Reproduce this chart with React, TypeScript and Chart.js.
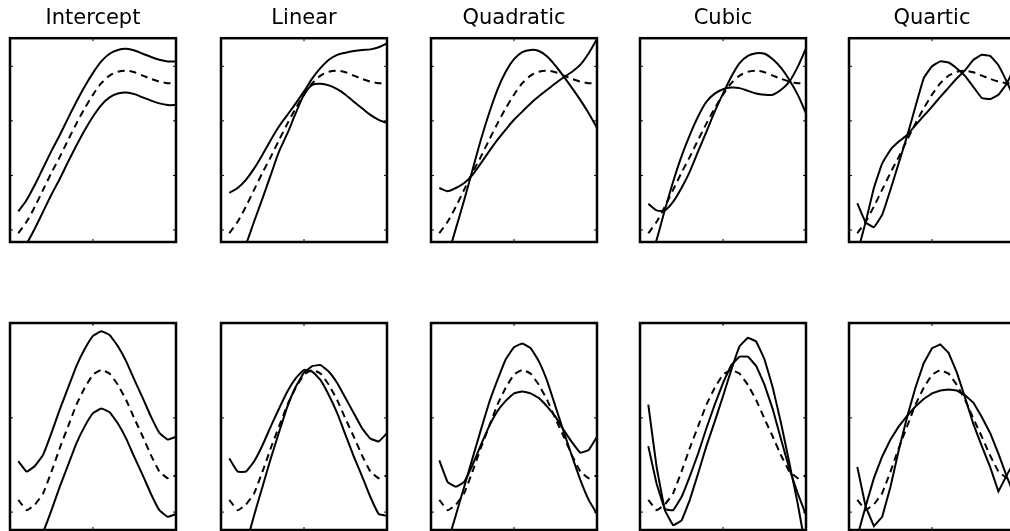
import React, { useEffect, useRef } from 'react';
import { Chart, registerables } from 'chart.js';

Chart.register(...registerables);

// ---------- data ----------
const X_VALUES = [1, 2, 3, 4, 5, 6, 7, 8, 9, 10, 11, 12, 13, 14, 15, 16, 17, 18, 19, 20];
const X_TICKS = [0, 10, 20];
const TOP_Y_TICKS = [0, 1, 2, 3];
const BOTTOM_Y_TICKS = [-1, 0, 1];
const TITLES = ['Intercept', 'Linear', 'Quadratic', 'Cubic', 'Quartic'];

// top row: true function (dashed) and two fitted curves per basis
const TOP_TRUE = [-0.06, 0.15, 0.43, 0.74, 1.05, 1.34, 1.65, 1.95, 2.23, 2.48, 2.69, 2.83, 2.90, 2.92, 2.89, 2.83, 2.77, 2.72, 2.69, 2.69];
const TOP_INTERCEPT_A = [0.34, 0.55, 0.83, 1.14, 1.45, 1.74, 2.05, 2.35, 2.63, 2.88, 3.09, 3.23, 3.30, 3.32, 3.29, 3.23, 3.17, 3.12, 3.09, 3.09];
const TOP_INTERCEPT_B = [-0.46, -0.25, 0.03, 0.34, 0.65, 0.94, 1.25, 1.55, 1.83, 2.08, 2.29, 2.43, 2.50, 2.52, 2.49, 2.43, 2.37, 2.32, 2.29, 2.29];
const TOP_LINEAR_A = [0.68, 0.77, 0.92, 1.13, 1.38, 1.65, 1.90, 2.11, 2.32, 2.54, 2.78, 2.97, 3.12, 3.21, 3.25, 3.28, 3.30, 3.31, 3.35, 3.42];
const TOP_LINEAR_B = [-1.10, -0.67, -0.27, 0.16, 0.58, 1.01, 1.44, 1.77, 2.14, 2.48, 2.66, 2.68, 2.65, 2.58, 2.48, 2.35, 2.23, 2.11, 2.02, 1.96];
const TOP_QUADRATIC_A = [0.77, 0.71, 0.77, 0.86, 1.01, 1.22, 1.44, 1.65, 1.84, 2.02, 2.17, 2.32, 2.45, 2.57, 2.69, 2.80, 2.90, 3.03, 3.24, 3.50];
const TOP_QUADRATIC_B = [-0.97, -0.49, 0.03, 0.55, 1.10, 1.65, 2.14, 2.57, 2.90, 3.13, 3.26, 3.30, 3.28, 3.18, 3.01, 2.81, 2.60, 2.38, 2.14, 1.87];
const TOP_CUBIC_A = [0.48, 0.36, 0.36, 0.52, 0.77, 1.07, 1.44, 1.80, 2.17, 2.50, 2.81, 3.06, 3.19, 3.24, 3.23, 3.13, 2.97, 2.75, 2.48, 2.14];
const TOP_CUBIC_B = [-0.61, -0.18, 0.37, 0.89, 1.35, 1.74, 2.08, 2.35, 2.50, 2.58, 2.61, 2.60, 2.55, 2.50, 2.48, 2.48, 2.57, 2.72, 2.99, 3.33];
const TOP_QUARTIC_A = [0.49, 0.14, 0.05, 0.28, 0.74, 1.23, 1.72, 2.26, 2.78, 3.00, 3.09, 3.07, 2.96, 2.82, 2.62, 2.42, 2.40, 2.48, 2.68, 3.00];
const TOP_QUARTIC_B = [-0.42, 0.14, 0.77, 1.22, 1.47, 1.62, 1.74, 1.92, 2.09, 2.26, 2.44, 2.61, 2.78, 2.93, 3.12, 3.21, 3.19, 3.02, 2.72, 2.38];

// bottom row
const BOTTOM_TRUE = [-0.87, -0.98, -0.92, -0.80, -0.57, -0.32, -0.09, 0.14, 0.32, 0.46, 0.51, 0.47, 0.35, 0.19, -0.01, -0.20, -0.40, -0.57, -0.64, -0.61];
const BOTTOM_INTERCEPT_A = [-0.46, -0.57, -0.51, -0.39, -0.16, 0.09, 0.32, 0.55, 0.73, 0.87, 0.92, 0.88, 0.76, 0.60, 0.40, 0.21, 0.01, -0.16, -0.23, -0.20];
const BOTTOM_INTERCEPT_B = [-1.28, -1.39, -1.33, -1.21, -0.98, -0.73, -0.50, -0.27, -0.09, 0.05, 0.10, 0.06, -0.06, -0.22, -0.42, -0.61, -0.81, -0.98, -1.05, -1.02];
const BOTTOM_LINEAR_A = [-0.43, -0.57, -0.57, -0.46, -0.29, -0.09, 0.10, 0.28, 0.42, 0.51, 0.49, 0.40, 0.24, 0.05, -0.18, -0.41, -0.62, -0.84, -1.02, -1.04];
const BOTTOM_LINEAR_B = [-1.95, -1.65, -1.35, -1.03, -0.73, -0.43, -0.15, 0.12, 0.33, 0.48, 0.55, 0.56, 0.49, 0.37, 0.21, 0.05, -0.11, -0.22, -0.25, -0.16];
const BOTTOM_QUADRATIC_A = [-0.45, -0.68, -0.73, -0.68, -0.50, -0.29, -0.09, 0.07, 0.18, 0.26, 0.28, 0.26, 0.21, 0.12, 0.01, -0.13, -0.26, -0.37, -0.34, -0.20];
const BOTTOM_QUADRATIC_B = [-1.62, -1.33, -1.03, -0.73, -0.43, -0.13, 0.16, 0.40, 0.62, 0.75, 0.79, 0.74, 0.60, 0.39, 0.12, -0.15, -0.41, -0.66, -0.87, -1.02];
const BOTTOM_CUBIC_A = [0.14, -0.52, -0.98, -1.14, -1.09, -0.87, -0.59, -0.30, -0.04, 0.23, 0.51, 0.76, 0.85, 0.81, 0.62, 0.32, -0.06, -0.48, -0.91, -1.40];
const BOTTOM_CUBIC_B = [-0.30, -0.70, -0.97, -0.98, -0.84, -0.62, -0.38, -0.11, 0.14, 0.37, 0.56, 0.65, 0.65, 0.55, 0.35, 0.09, -0.23, -0.54, -0.80, -1.03];
const BOTTOM_QUARTIC_A = [-0.52, -0.94, -1.15, -1.05, -0.73, -0.34, 0.01, 0.32, 0.58, 0.74, 0.78, 0.69, 0.48, 0.21, -0.07, -0.30, -0.52, -0.78, -0.61, -0.45];
const BOTTOM_QUARTIC_B = [-1.26, -0.94, -0.64, -0.41, -0.23, -0.09, 0.02, 0.12, 0.20, 0.26, 0.29, 0.30, 0.29, 0.24, 0.16, 0.01, -0.16, -0.38, -0.62, -0.84];

const TOP_FITS = [
  [TOP_INTERCEPT_A, TOP_INTERCEPT_B],
  [TOP_LINEAR_A, TOP_LINEAR_B],
  [TOP_QUADRATIC_A, TOP_QUADRATIC_B],
  [TOP_CUBIC_A, TOP_CUBIC_B],
  [TOP_QUARTIC_A, TOP_QUARTIC_B],
];
const BOTTOM_FITS = [
  [BOTTOM_INTERCEPT_A, BOTTOM_INTERCEPT_B],
  [BOTTOM_LINEAR_A, BOTTOM_LINEAR_B],
  [BOTTOM_QUADRATIC_A, BOTTOM_QUADRATIC_B],
  [BOTTOM_CUBIC_A, BOTTOM_CUBIC_B],
  [BOTTOM_QUARTIC_A, BOTTOM_QUARTIC_B],
];

// ---------- layout / style ----------
const PANEL_LEFT = [10, 221, 431, 640, 849];
const PANEL_W = 166;
const PAD = 3;
const TOP_RANGE = { min: -0.22, max: 3.515 };
const BOTTOM_RANGE = { min: -1.19, max: 1.007 };
const TOP_TENSION = [0.3, 0.3, 0.3, 0.25, 0.1];
const BOTTOM_TENSION = [0.1, 0.1, 0.1, 0.05, 0];

const makeFrame = (yTicks: number[]) => ({
  id: 'frame',
  afterDatasetsDraw(chart: any) {
    const { ctx, chartArea: a, scales } = chart;
    ctx.save();
    ctx.strokeStyle = '#000';
    ctx.lineWidth = 1;
    const t = 3;
    ctx.beginPath();
    X_TICKS.forEach((v) => {
      const p = scales.x.getPixelForValue(v);
      ctx.moveTo(p, a.bottom);
      ctx.lineTo(p, a.bottom - t);
      ctx.moveTo(p, a.top);
      ctx.lineTo(p, a.top + t);
    });
    yTicks.forEach((v) => {
      const p = scales.y.getPixelForValue(v);
      ctx.moveTo(a.left, p);
      ctx.lineTo(a.left + t, p);
      ctx.moveTo(a.right, p);
      ctx.lineTo(a.right - t, p);
    });
    ctx.stroke();
    ctx.lineWidth = 2.5;
    ctx.strokeRect(a.left, a.top, a.right - a.left, a.bottom - a.top);
    ctx.restore();
  },
});

type PanelProps = {
  left: number;
  top: number;
  height: number;
  padTop: number;
  padBottom: number;
  title?: string;
  range: { min: number; max: number };
  yTicks: number[];
  fits: number[][];
  truth: number[];
  tension: number;
};

function Panel({ left, top, height, padTop, padBottom, title, range, yTicks, fits, truth, tension }: PanelProps) {
  const ref = useRef<HTMLCanvasElement>(null);
  useEffect(() => {
    if (!ref.current) return;
    const toPts = (arr: number[]) => X_VALUES.map((x, i) => ({ x, y: arr[i] }));
    const datasets: any[] = fits.map((f) => ({
      data: toPts(f),
      borderColor: '#000',
      borderWidth: 2,
      pointRadius: 0,
      tension,
      fill: false,
    }));
    datasets.push({
      data: toPts(truth),
      borderColor: '#000',
      borderWidth: 2,
      borderDash: [7, 5],
      pointRadius: 0,
      tension,
      fill: false,
    });
    const chart = new Chart(ref.current, {
      type: 'line',
      data: { datasets },
      options: {
        animation: false,
        responsive: true,
        maintainAspectRatio: false,
        events: [],
        layout: { padding: { left: PAD, right: PAD, top: padTop, bottom: padBottom } },
        scales: {
          x: { type: 'linear', min: 0, max: 20, display: false },
          y: { type: 'linear', min: range.min, max: range.max, display: false },
        },
        plugins: {
          legend: { display: false },
          tooltip: { enabled: false },
          title: title
            ? {
                display: true,
                text: title,
                color: '#000',
                font: { family: "'DejaVu Sans', sans-serif", size: 21, weight: 'normal', lineHeight: 1.2 },
                padding: { top: 6, bottom: 7 },
              }
            : { display: false },
        },
      },
      plugins: [makeFrame(yTicks)],
    });
    return () => chart.destroy();
  }, []);
  return (
    <div style={{ position: 'absolute', left: left - PAD, top, width: PANEL_W + 2 * PAD, height }}>
      <canvas ref={ref} />
    </div>
  );
}

export default function App() {
  return (
    <div
      style={{
        position: 'fixed',
        left: 0,
        top: 0,
        width: 1010,
        height: 531,
        overflow: 'hidden',
        background: '#fff',
      }}
    >
      {PANEL_LEFT.map((l, i) => (
        <Panel
          key={'t' + i}
          left={l}
          top={0}
          height={245}
          padTop={0}
          padBottom={PAD}
          title={TITLES[i]}
          range={TOP_RANGE}
          yTicks={TOP_Y_TICKS}
          fits={TOP_FITS[i]}
          truth={TOP_TRUE}
          tension={TOP_TENSION[i]}
        />
      ))}
      {PANEL_LEFT.map((l, i) => (
        <Panel
          key={'b' + i}
          left={l}
          top={320}
          height={211}
          padTop={PAD}
          padBottom={1}
          range={BOTTOM_RANGE}
          yTicks={BOTTOM_Y_TICKS}
          fits={BOTTOM_FITS[i]}
          truth={BOTTOM_TRUE}
          tension={BOTTOM_TENSION[i]}
        />
      ))}
    </div>
  );
}
